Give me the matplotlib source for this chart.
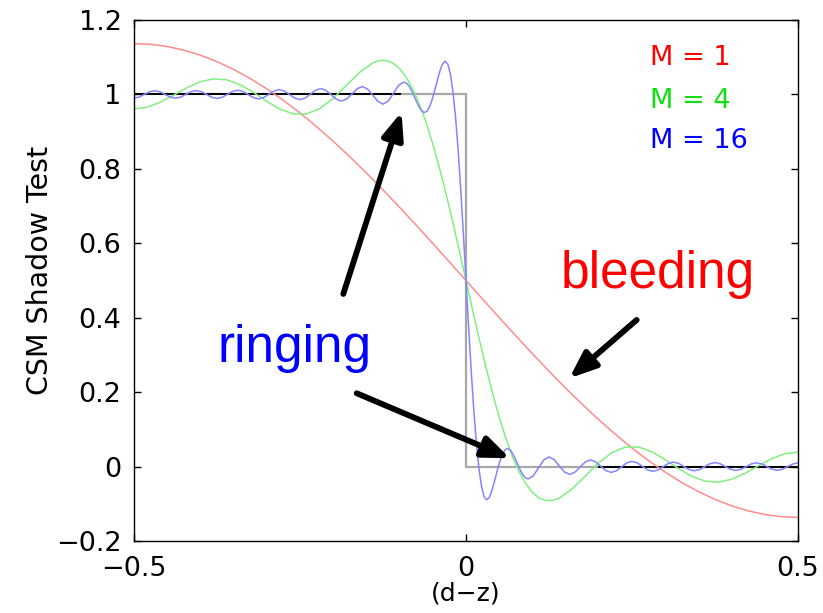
import matplotlib
matplotlib.use("Agg")
import matplotlib.pyplot as plt

# 数据
x_m1 = [-0.500, -0.475, -0.450, -0.425, -0.400, -0.375, -0.350, -0.325, -0.300, -0.275,
        -0.250, -0.225, -0.200, -0.175, -0.150, -0.125, -0.100, -0.075, -0.050, -0.025,
        0.000, 0.025, 0.050, 0.075, 0.100, 0.125, 0.150, 0.175, 0.200, 0.225,
        0.250, 0.275, 0.300, 0.325, 0.350, 0.375, 0.400, 0.425, 0.450, 0.475, 0.500]
y_m1 = [1.1366, 1.1347, 1.1288, 1.1190, 1.1055, 1.0882, 1.0672, 1.0428, 1.0150, 0.9841,
        0.9502, 0.9134, 0.8742, 0.8326, 0.7890, 0.7436, 0.6967, 0.6486, 0.5996, 0.5499,
        0.5000, 0.4501, 0.4004, 0.3514, 0.3033, 0.2564, 0.2110, 0.1674, 0.1258, 0.0866,
        0.0498, 0.0159, -0.0150, -0.0428, -0.0672, -0.0882, -0.1055, -0.1190, -0.1288, -0.1347, -0.1366]

x_m4 = [-0.50, -0.48, -0.46, -0.44, -0.42, -0.40, -0.38, -0.36, -0.34, -0.32, -0.30,
        -0.28, -0.26, -0.24, -0.22, -0.20, -0.18, -0.16, -0.14, -0.13, -0.12, -0.11,
        -0.10, -0.09, -0.08, -0.07, -0.06, -0.05, -0.04, -0.03, -0.02, -0.01, 0.00,
        0.01, 0.02, 0.03, 0.04, 0.05, 0.06, 0.07, 0.08, 0.09, 0.10, 0.11, 0.12, 0.13,
        0.14, 0.16, 0.18, 0.20, 0.22, 0.24, 0.26, 0.28, 0.30, 0.32, 0.34, 0.36, 0.38,
        0.40, 0.42, 0.44, 0.46, 0.48, 0.50]
y_m4 = [0.9608, 0.9657, 0.9793, 0.9984, 1.0183, 1.0342, 1.0419, 1.0392, 1.0261, 1.0053, 0.9814,
        0.9603, 0.9476, 0.9477, 0.9622, 0.9895, 1.0247, 1.0598, 1.0853, 1.0913, 1.0913, 1.0842,
        1.0693, 1.0460, 1.0140, 0.9733, 0.9241, 0.8670, 0.8028, 0.7327, 0.6578, 0.5797, 0.5000,
        0.4203, 0.3422, 0.2673, 0.1972, 0.1330, 0.0759, 0.0267, -0.0140, -0.0460, -0.0693, -0.0842, -0.0913, -0.0913,
        -0.0853, -0.0598, -0.0247, 0.0105, 0.0378, 0.0523, 0.0524, 0.0397, 0.0186, -0.0053, -0.0261, -0.0392, -0.0419,
        -0.0342, -0.0183, 0.0016, 0.0207, 0.0343, 0.0392]

x_m16 = [-0.5000, -0.4922, -0.4844, -0.4766, -0.4688, -0.4609, -0.4531, -0.4453,
         -0.4375, -0.4297, -0.4219, -0.4141, -0.4063, -0.3984, -0.3906, -0.3828,
         -0.3750, -0.3672, -0.3594, -0.3516, -0.3438, -0.3359, -0.3281, -0.3203,
         -0.3125, -0.3047, -0.2969, -0.2891, -0.2813, -0.2734, -0.2656, -0.2578,
         -0.2500, -0.2422, -0.2344, -0.2266, -0.2188, -0.2109, -0.2031, -0.1953,
         -0.1875, -0.1797, -0.1719, -0.1641, -0.1563, -0.1484, -0.1406, -0.1328,
         -0.1250, -0.1172, -0.1094, -0.1016, -0.0938, -0.0898, -0.0859, -0.0820,
         -0.0781, -0.0742, -0.0703, -0.0664, -0.0625, -0.0586, -0.0547, -0.0508,
         -0.0469, -0.0430, -0.0391, -0.0352, -0.0313, -0.0273, -0.0234, -0.0195,
         -0.0156, -0.0117, -0.0078, -0.0039, 0.0000,
         0.0039, 0.0078, 0.0117, 0.0156, 0.0195, 0.0234, 0.0273, 0.0313,
         0.0352, 0.0391, 0.0430, 0.0469, 0.0508, 0.0547, 0.0586, 0.0625,
         0.0664, 0.0703, 0.0742, 0.0781, 0.0820, 0.0859, 0.0898, 0.0938,
         0.1016, 0.1094, 0.1172, 0.1250, 0.1328, 0.1406, 0.1484, 0.1563,
         0.1641, 0.1719, 0.1797, 0.1875, 0.1953, 0.2031, 0.2109, 0.2188,
         0.2266, 0.2344, 0.2422, 0.2500, 0.2578, 0.2656, 0.2734, 0.2813,
         0.2891, 0.2969, 0.3047, 0.3125, 0.3203, 0.3281, 0.3359, 0.3438,
         0.3516, 0.3594, 0.3672, 0.3750, 0.3828, 0.3906, 0.3984, 0.4063,
         0.4141, 0.4219, 0.4297, 0.4375, 0.4453, 0.4531, 0.4609, 0.4688,
         0.4766, 0.4844, 0.4922, 0.5000]
y_m16 = [0.9901, 0.9930, 1.0000, 1.0071, 1.0100, 1.0071, 1.0000, 0.9928,
         0.9899, 0.9928, 1.0001, 1.0074, 1.0104, 1.0073, 0.9999, 0.9924,
         0.9892, 0.9924, 1.0002, 1.0080, 1.0113, 1.0079, 0.9998, 0.9915,
         0.9880, 0.9916, 1.0003, 1.0091, 1.0129, 1.0090, 0.9996, 0.9900,
         0.9859, 0.9901, 1.0005, 1.0112, 1.0157, 1.0110, 0.9993, 0.9872,
         0.9821, 0.9875, 1.0010, 1.0151, 1.0211, 1.0147, 0.9985, 0.9814,
         0.9740, 0.9820, 1.0026, 1.0245, 1.0331, 1.0305, 1.0226, 1.0104,
         0.9952, 0.9792, 0.9650, 0.9549, 0.9514, 0.9554, 0.9676, 0.9871,
         1.0120, 1.0389, 1.0640, 1.0824, 1.0895, 1.0811, 1.0538, 1.0056,
         0.9363, 0.8473, 0.7416, 0.6239, 0.5000,
         0.3761, 0.2584, 0.1527, 0.0637, -0.0056, -0.0538, -0.0811, -0.0895,
         -0.0824, -0.0640, -0.0389, -0.0120, 0.0129, 0.0324, 0.0446, 0.0486,
         0.0451, 0.0350, 0.0208, 0.0048, -0.0104, -0.0226, -0.0305, -0.0331,
         -0.0245, -0.0026, 0.0180, 0.0260, 0.0186, 0.0015, -0.0147, -0.0211,
         -0.0151, -0.0010, 0.0125, 0.0179, 0.0128, 0.0007, -0.0110, -0.0157,
         -0.0112, -0.0005, 0.0099, 0.0141, 0.0100, 0.0004, -0.0090, -0.0129,
         -0.0091, -0.0003, 0.0084, 0.0120, 0.0085, 0.0002, -0.0079, -0.0113,
         -0.0080, -0.0002, 0.0076, 0.0108, 0.0076, 0.0001, -0.0073, -0.0104,
         -0.0074, -0.0001, 0.0072, 0.0101, 0.0072, 0.0000, -0.0071, -0.0100,
         -0.0071, 0.0000, 0.0070, 0.0099]

# step function (grey) and the black parts of it
x_step = [-0.5, 0.0, 0.0, 0.5]
y_step = [1.0, 1.0, 0.0, 0.0]
x_black_top = [-0.5, -0.1]
x_black_bottom = [0.2, 0.5]

series_labels = ["M = 1", "M = 4", "M = 16"]
xticks = [-0.5, 0, 0.5]
xtick_labels = ["\u22120.5", "0", "0.5"]
yticks = [-0.2, 0, 0.2, 0.4, 0.6, 0.8, 1.0, 1.2]
ytick_labels = ["\u22120.2", "0", "0.2", "0.4", "0.6", "0.8", "1", "1.2"]

plt.rcParams['font.family'] = ['DejaVu Sans']

fig = plt.figure(figsize=(8.23, 6.13), dpi=100)
ax = fig.add_axes([134 / 823, 1 - 541 / 613, 664 / 823, 521 / 613])

ax.plot(x_step, y_step, color='#a8a8a8', lw=1.6)
ax.plot(x_black_top, [1, 1], color='black', lw=1.4)
ax.plot(x_black_bottom, [0, 0], color='black', lw=1.4)
ax.plot(x_m1, y_m1, color='#ff8c8c', lw=1.1)
ax.plot(x_m4, y_m4, color='#80f080', lw=1.1)
ax.plot(x_m16, y_m16, color='#8484ff', lw=1.1)

ax.set_xlim(-0.5, 0.5)
ax.set_ylim(-0.2, 1.2)
ax.set_xticks(xticks)
ax.set_xticklabels(xtick_labels)
ax.set_yticks(yticks)
ax.set_yticklabels(ytick_labels)
ax.tick_params(direction='in', length=5, width=1, top=True, right=True,
               labelsize=19.5, pad=9)
ax.tick_params(axis='x', pad=11)
for s in ax.spines.values():
    s.set_linewidth(1.0)

# x label kept inside the figure, below the tick labels
ax.set_xlabel("(d\u2212z)", fontsize=18)
ax.xaxis.set_label_coords(0.5, -0.077)
fig.text(40 / 823, 1 - 270 / 613, "CSM Shadow Test", rotation=90,
         ha='center', va='center', fontsize=20.5)

# legend as coloured text
legend_colors = ['#ff0000', '#10e010', '#0000ff']
legend_y = [1.079, 0.964, 0.855]
for lab, c, yy in zip(series_labels, legend_colors, legend_y):
    ax.text(0.277, yy, lab, color=c, fontsize=19.5, va='baseline', ha='left')

# annotations
ann_font = ['Liberation Sans', 'DejaVu Sans']
ax.text(-0.3735, 0.281, "ringing", color='#0000ff', fontsize=37,
        family=ann_font, va='baseline', ha='left')
ax.text(0.143, 0.479, "bleeding", color='#ff0000', fontsize=37,
        family=ann_font, va='baseline', ha='left')

arrow_style = dict(arrowstyle='-|>,head_length=0.8,head_width=0.32',
                   color='black', lw=4.2, mutation_scale=20,
                   shrinkA=0, shrinkB=0)
ax.annotate('', xy=(-0.0971, 0.953), xytext=(-0.1848, 0.4638), arrowprops=arrow_style)
ax.annotate('', xy=(0.0663, 0.0223), xytext=(-0.1646, 0.197), arrowprops=arrow_style)
ax.annotate('', xy=(0.1556, 0.2373), xytext=(0.257, 0.394), arrowprops=arrow_style)

plt.savefig("out.png", dpi=100)
